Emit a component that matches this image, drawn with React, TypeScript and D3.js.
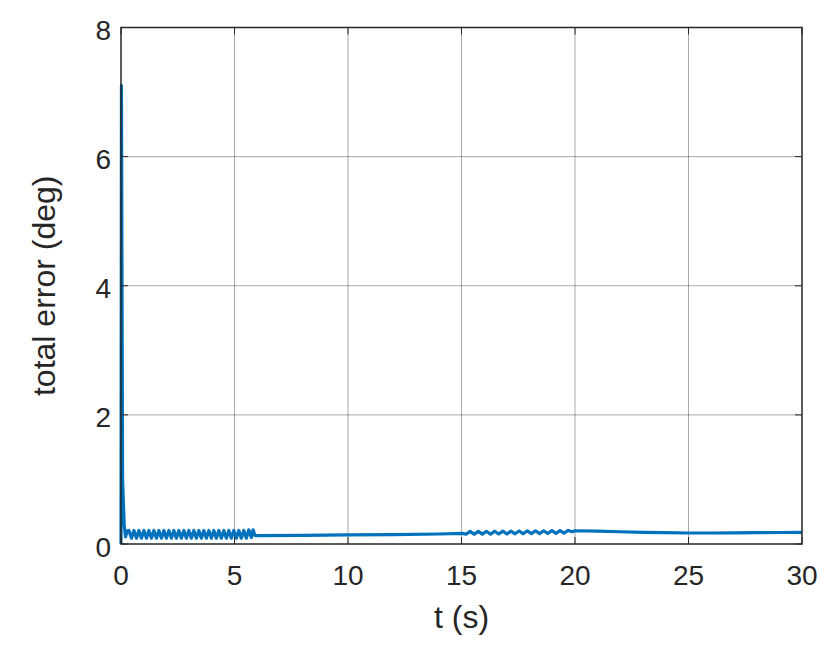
import React from "react";
import * as d3 from "d3";

const xTicks = [0, 5, 10, 15, 20, 25, 30];
const yTicks = [0, 2, 4, 6, 8];
const xLabel = "t (s)";
const yLabel = "total error (deg)";

// initial transient
const tStart = [0, 0.02, 0.07, 0.14, 0.2, 0.27];
const vStart = [0, 7.1, 1.0, 0.3, 0.11, 0.2];

// first oscillation (0.3 s – 5.8 s)
const tOsc1 = [0.35, 0.46, 0.57, 0.68, 0.79, 0.9, 1.01, 1.12, 1.23, 1.34, 1.45, 1.56, 1.67, 1.78, 1.89, 2.0, 2.11, 2.22, 2.33, 2.44, 2.55, 2.66, 2.77, 2.88, 2.99, 3.1, 3.21, 3.32, 3.43, 3.54, 3.65, 3.76, 3.87, 3.98, 4.09, 4.2, 4.31, 4.42, 4.53, 4.64, 4.75, 4.86, 4.97, 5.08, 5.19, 5.3, 5.41, 5.52, 5.63, 5.74];
const vOsc1 = [0.21, 0.09, 0.21, 0.09, 0.21, 0.09, 0.21, 0.09, 0.21, 0.09, 0.21, 0.09, 0.21, 0.09, 0.21, 0.09, 0.21, 0.09, 0.21, 0.09, 0.21, 0.09, 0.21, 0.09, 0.21, 0.09, 0.21, 0.09, 0.21, 0.09, 0.21, 0.09, 0.21, 0.09, 0.21, 0.09, 0.21, 0.09, 0.21, 0.09, 0.21, 0.09, 0.21, 0.09, 0.21, 0.09, 0.21, 0.09, 0.22, 0.1];

// calm stretch
const tMid = [5.82, 5.9, 8, 10, 12, 14, 15.05];
const vMid = [0.22, 0.13, 0.135, 0.14, 0.145, 0.155, 0.165];

// second oscillation (15 s – 20 s)
const tOsc2 = [15.2, 15.38, 15.56, 15.74, 15.92, 16.1, 16.28, 16.46, 16.64, 16.82, 17.0, 17.18, 17.36, 17.54, 17.72, 17.9, 18.08, 18.26, 18.44, 18.62, 18.8, 18.98, 19.16, 19.34, 19.52, 19.7, 19.88];
const vOsc2 = [0.15, 0.195, 0.15, 0.195, 0.152, 0.197, 0.152, 0.198, 0.155, 0.2, 0.155, 0.2, 0.158, 0.202, 0.158, 0.204, 0.16, 0.205, 0.16, 0.205, 0.162, 0.207, 0.165, 0.207, 0.168, 0.21, 0.19];

// tail
const tEnd = [20, 21, 22, 23, 24, 25, 26, 27, 28, 29, 30];
const vEnd = [0.205, 0.2, 0.19, 0.18, 0.175, 0.17, 0.17, 0.172, 0.175, 0.178, 0.18];

const W = 830;
const H = 647;
const margin = { left: 121, right: 28, top: 27.5, bottom: 103 };

export default function App() {
  const x = d3.scaleLinear().domain([0, 30]).range([margin.left, W - margin.right]);
  const y = d3.scaleLinear().domain([0, 8]).range([H - margin.bottom, margin.top]);

  const ts = [...tStart, ...tOsc1, ...tMid, ...tOsc2, ...tEnd];
  const vs = [...vStart, ...vOsc1, ...vMid, ...vOsc2, ...vEnd];
  const pts: [number, number][] = ts.map((t, i) => [t, vs[i]]);
  const line = d3
    .line<[number, number]>()
    .x((d) => x(d[0]))
    .y((d) => y(d[1]));

  const x0 = x(0), x1 = x(30), y0 = y(0), y1 = y(8);
  const font = "Arial, 'Liberation Sans', Helvetica, sans-serif";

  return (
    <svg width={W} height={H} style={{ position: "absolute", left: 0, top: 0, background: "#fff" }}>
      <rect x={0} y={0} width={W} height={H} fill="#fff" />
      {xTicks.slice(1, -1).map((t) => (
        <line key={"gx" + t} x1={x(t)} x2={x(t)} y1={y0} y2={y1} stroke="#262626" strokeOpacity={0.4} strokeWidth={1} />
      ))}
      {yTicks.slice(1, -1).map((t) => (
        <line key={"gy" + t} x1={x0} x2={x1} y1={y(t)} y2={y(t)} stroke="#262626" strokeOpacity={0.4} strokeWidth={1} />
      ))}
      <path d={line(pts) || ""} fill="none" stroke="#0072BD" strokeWidth={3.2} strokeLinejoin="round" />
      {xTicks.map((t) => (
        <g key={"tx" + t}>
          <line x1={x(t)} x2={x(t)} y1={y0} y2={y0 - 7} stroke="#262626" />
          <line x1={x(t)} x2={x(t)} y1={y1} y2={y1 + 7} stroke="#262626" />
          <text x={x(t)} y={y0 + 41} textAnchor="middle" fontFamily={font} fontSize={28} fill="#262626">
            {t}
          </text>
        </g>
      ))}
      {yTicks.map((t) => (
        <g key={"ty" + t}>
          <line x1={x0} x2={x0 + 7} y1={y(t)} y2={y(t)} stroke="#262626" />
          <line x1={x1} x2={x1 - 7} y1={y(t)} y2={y(t)} stroke="#262626" />
          <text x={x0 - 10} y={y(t) + 12.5} textAnchor="end" fontFamily={font} fontSize={28} fill="#262626">
            {t}
          </text>
        </g>
      ))}
      <rect x={x0} y={y1} width={x1 - x0} height={y0 - y1} fill="none" stroke="#262626" strokeWidth={1.5} />
      <text x={(x0 + x1) / 2} y={628} textAnchor="middle" fontFamily={font} fontSize={32} fill="#262626">
        {xLabel}
      </text>
      <text
        transform={`translate(55, ${(y0 + y1) / 2}) rotate(-90)`}
        textAnchor="middle"
        fontFamily={font}
        fontSize={32}
        fill="#262626"
      >
        {yLabel}
      </text>
    </svg>
  );
}
